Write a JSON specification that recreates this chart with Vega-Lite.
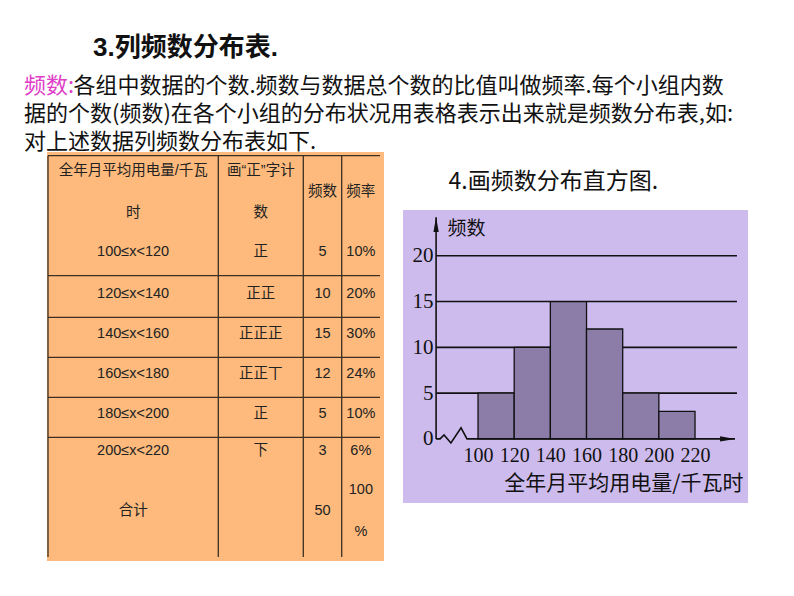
{
  "$schema": "https://vega.github.io/schema/vega-lite/v6.json",
  "background": "white",
  "padding": {"left": 24, "top": 35, "right": 0, "bottom": 0},
  "config": {"view": {"stroke": null}, "font": "Noto Sans CJK SC"},
  "title": {"text": "3.列频数分布表.", "anchor": "start", "dx": 69, "font": "Liberation Sans, Noto Sans CJK SC", "fontSize": 26, "fontWeight": "bold", "color": "#111", "offset": 14},
  "vconcat": [
    {
      "title": {
        "text": "频数:", "color": "#e040c8", "anchor": "start", "dx": -23,
        "font": "Noto Sans CJK SC", "fontSize": 22, "fontWeight": "normal",
        "subtitle": ["\u200b\u3000\u3000\u2005各组中数据的个数.频数与数据总个数的比值叫做频率.每个小组内数", "据的个数(频数)在各个小组的分布状况用表格表示出来就是频数分布表,如:", "对上述数据列频数分布表如下."],
        "subtitleFont": "Noto Sans CJK SC", "subtitleFontSize": 22, "subtitleColor": "#111", "subtitleLineHeight": 28, "subtitlePadding": -22,
        "offset": -2
      },
      "spacing": 19,
      "hconcat": [
        {
          "width": 337,
          "height": 409,
          "view": {"fill": "#fdba7c", "stroke": null},
          "layer": [
            {
              "data": {"values": [{"e": -0.5}, {"e": 1.5}, {"e": 2.5}, {"e": 3.5}, {"e": 4.5}, {"e": 5.5}]},
              "mark": {"type": "rule", "color": "#3d2f22", "strokeWidth": 1.3},
              "encoding": {
                "y": {"field": "e", "type": "quantitative", "axis": null, "scale": {"domain": [-0.5, 0.5, 1.5, 2.5, 3.5, 4.5, 5.5, 6.5, 7.5], "range": [3.7, 83, 123.7, 165.3, 205.3, 245.3, 285.3, 318, 405], "nice": false, "zero": false}},
                "x": {"datum": -0.5, "type": "quantitative", "axis": null, "scale": {"domain": [-0.5, 0.5, 1.5, 2.5, 3.5], "range": [1, 171.3, 256.3, 294.7, 333], "nice": false, "zero": false}},
                "x2": {"datum": 3.5}
              }
            },
            {
              "data": {"values": [{"e": -0.5}, {"e": 0.5}, {"e": 1.5}, {"e": 2.5}]},
              "mark": {"type": "rule", "color": "#3d2f22", "strokeWidth": 1.3},
              "encoding": {
                "x": {"field": "e", "type": "quantitative", "axis": null, "scale": {"domain": [-0.5, 0.5, 1.5, 2.5, 3.5], "range": [1, 171.3, 256.3, 294.7, 333], "nice": false, "zero": false}},
                "y": {"datum": -0.5, "type": "quantitative", "axis": null, "scale": {"domain": [-0.5, 0.5, 1.5, 2.5, 3.5, 4.5, 5.5, 6.5, 7.5], "range": [3.7, 83, 123.7, 165.3, 205.3, 245.3, 285.3, 318, 405], "nice": false, "zero": false}},
                "y2": {"datum": 7.5}
              }
            },
            {
              "data": {"values": [
                {"c": 2, "r": 0, "t": "频数"},
                {"c": 3, "r": 0, "t": "频率"},
                {"c": 0, "r": 1, "t": "100≤x<120"}, {"c": 1, "r": 1, "t": "正"}, {"c": 2, "r": 1, "t": "5"}, {"c": 3, "r": 1, "t": "10%"},
                {"c": 0, "r": 2, "t": "120≤x<140"}, {"c": 1, "r": 2, "t": "正正"}, {"c": 2, "r": 2, "t": "10"}, {"c": 3, "r": 2, "t": "20%"},
                {"c": 0, "r": 3, "t": "140≤x<160"}, {"c": 1, "r": 3, "t": "正正正"}, {"c": 2, "r": 3, "t": "15"}, {"c": 3, "r": 3, "t": "30%"},
                {"c": 0, "r": 4, "t": "160≤x<180"}, {"c": 1, "r": 4, "t": "正正丅"}, {"c": 2, "r": 4, "t": "12"}, {"c": 3, "r": 4, "t": "24%"},
                {"c": 0, "r": 5, "t": "180≤x<200"}, {"c": 1, "r": 5, "t": "正"}, {"c": 2, "r": 5, "t": "5"}, {"c": 3, "r": 5, "t": "10%"},
                {"c": 0, "r": 6, "t": "200≤x<220"}, {"c": 1, "r": 6, "t": "下"}, {"c": 2, "r": 6, "t": "3"}, {"c": 3, "r": 6, "t": "6%"},
                {"c": 0, "r": 7, "t": "合计"}, {"c": 2, "r": 7, "t": "50"}
              ]},
              "mark": {"type": "text", "font": "Liberation Sans, Noto Sans CJK SC", "fontSize": 14.5, "color": "#222", "align": "center", "baseline": "middle", "dy": -3},
              "encoding": {
                "x": {"field": "c", "type": "quantitative", "axis": null, "scale": {"domain": [-0.5, 0.5, 1.5, 2.5, 3.5], "range": [1, 171.3, 256.3, 294.7, 333], "nice": false, "zero": false}},
                "y": {"field": "r", "type": "quantitative", "axis": null, "scale": {"domain": [-0.5, 0.5, 1.5, 2.5, 3.5, 4.5, 5.5, 6.5, 7.5], "range": [3.7, 83, 123.7, 165.3, 205.3, 245.3, 285.3, 318, 405], "nice": false, "zero": false}},
                "text": {"field": "t"}
              }
            },
            {
              "data": {"values": [
                {"c": 0, "r": 0, "t": ["全年月平均用电量/千瓦", "时"]},
                {"c": 1, "r": 0, "t": ["画“正”字计", "数"]},
                {"c": 3, "r": 7, "t": ["100", "%"]}
              ]},
              "mark": {"type": "text", "font": "Liberation Sans, Noto Sans CJK SC", "fontSize": 14.5, "color": "#222", "align": "center", "baseline": "middle", "lineHeight": 42, "dy": -24},
              "encoding": {
                "x": {"field": "c", "type": "quantitative", "axis": null, "scale": {"domain": [-0.5, 0.5, 1.5, 2.5, 3.5], "range": [1, 171.3, 256.3, 294.7, 333], "nice": false, "zero": false}},
                "y": {"field": "r", "type": "quantitative", "axis": null, "scale": {"domain": [-0.5, 0.5, 1.5, 2.5, 3.5, 4.5, 5.5, 6.5, 7.5], "range": [3.7, 83, 123.7, 165.3, 205.3, 245.3, 285.3, 318, 405], "nice": false, "zero": false}},
                "text": {"field": "t"}
              }
            }
          ]
        },
        {
          "width": 345,
          "height": 351,
          "resolve": {"axis": {"x": "independent", "y": "independent"}},
          "layer": [
            {
              "data": {"values": [{"x0": 58.5, "x1": 249.3, "y0": -7, "y1": 25}]},
              "mark": {"type": "rect", "fill": "#cdbbee", "strokeWidth": 0},
              "encoding": {
                "x": {"field": "x0", "type": "quantitative", "scale": {"domain": [58.5, 249.3], "nice": false, "zero": false},
                  "axis": {"orient": "top", "labels": false, "ticks": false, "domain": false, "grid": false, "zindex": 1,
                    "title": "4.画频数分布直方图.", "titleX": 45, "titleY": 18, "titleAlign": "left", "titleAnchor": "start", "titleBaseline": "top", "titleAngle": 0,
                    "titleFont": "Noto Sans CJK SC", "titleFontSize": 23, "titleFontWeight": "normal", "titleColor": "#111"}},
                "x2": {"field": "x1"},
                "y": {"field": "y0", "type": "quantitative", "axis": null, "scale": {"domain": [-7, 31.33], "nice": false, "zero": false}},
                "y2": {"field": "y1"}
              }
            },
            {
              "data": {"values": [{"n": 5, "a": 76.8, "b": 243.2}, {"n": 10, "a": 76.8, "b": 243.2}, {"n": 15, "a": 76.8, "b": 243.2}, {"n": 20, "a": 76.8, "b": 243.2}]},
              "mark": {"type": "rule", "color": "#111", "strokeWidth": 1.6},
              "encoding": {
                "x": {"field": "a", "type": "quantitative", "scale": {"domain": [58.5, 249.3], "nice": false, "zero": false},
                  "axis": {"orient": "bottom", "values": [100, 120, 140, 160, 180, 200, 220], "offset": -64, "domain": false, "ticks": false, "tickSize": 0, "grid": false, "zindex": 1,
                    "labelFont": "Liberation Serif", "labelFontSize": 20, "labelColor": "#111", "labelPadding": 6, "labelFlush": false, "labelOverlap": false,
                    "title": "全年月平均用电量/千瓦时", "titleFont": "Noto Sans CJK SC", "titleFontSize": 21, "titleFontWeight": "normal", "titleColor": "#111",
                    "titleX": 340, "titleY": 33, "titleAlign": "right", "titleBaseline": "top"}},
                "x2": {"field": "b"},
                "y": {"field": "n", "type": "quantitative", "scale": {"domain": [-7, 31.33], "nice": false, "zero": false},
                  "axis": {"orient": "left", "values": [0, 5, 10, 15, 20], "offset": -33, "domain": false, "ticks": false, "tickSize": 0, "grid": false, "zindex": 1,
                    "labelFont": "Liberation Serif", "labelFontSize": 21, "labelColor": "#111", "labelPadding": 3, "labelFlush": false, "labelOverlap": false,
                    "title": "频数", "titleAngle": 0, "titleAlign": "left", "titleBaseline": "top", "titleX": 11, "titleY": 67,
                    "titleFont": "Noto Sans CJK SC", "titleFontSize": 19, "titleFontWeight": "normal", "titleColor": "#111"}}
              }
            },
            {
              "data": {"values": [
                {"lo": 100, "hi": 120, "n": 5},
                {"lo": 120, "hi": 140, "n": 10},
                {"lo": 140, "hi": 160, "n": 15},
                {"lo": 160, "hi": 180, "n": 12},
                {"lo": 180, "hi": 200, "n": 5},
                {"lo": 200, "hi": 220, "n": 3}
              ]},
              "mark": {"type": "rect", "fill": "#8c7da8", "stroke": "#111", "strokeWidth": 1.3},
              "encoding": {
                "x": {"field": "lo", "type": "quantitative", "axis": null, "scale": {"domain": [58.5, 249.3], "nice": false, "zero": false}},
                "x2": {"field": "hi"},
                "y": {"field": "n", "type": "quantitative", "axis": null, "scale": {"domain": [-7, 31.33], "nice": false, "zero": false}},
                "y2": {"datum": 0}
              }
            },
            {
              "data": {"values": [{"v": 76.8, "lo": 0, "hi": 24.2}]},
              "mark": {"type": "rule", "color": "#111", "strokeWidth": 1.6},
              "encoding": {
                "x": {"field": "v", "type": "quantitative", "axis": null, "scale": {"domain": [58.5, 249.3], "nice": false, "zero": false}},
                "y": {"field": "lo", "type": "quantitative", "axis": null, "scale": {"domain": [-7, 31.33], "nice": false, "zero": false}},
                "y2": {"field": "hi"}
              }
            },
            {
              "data": {"values": [
                {"i": 0, "v": 76.8, "n": 0},
                {"i": 1, "v": 79.0, "n": 0},
                {"i": 2, "v": 81.2, "n": 0.44},
                {"i": 3, "v": 85.0, "n": -0.44},
                {"i": 4, "v": 90.6, "n": 1.2},
                {"i": 5, "v": 93.9, "n": 0},
                {"i": 6, "v": 242.1, "n": 0}
              ]},
              "mark": {"type": "line", "color": "#111", "strokeWidth": 1.6},
              "encoding": {
                "x": {"field": "v", "type": "quantitative", "axis": null, "scale": {"domain": [58.5, 249.3], "nice": false, "zero": false}},
                "y": {"field": "n", "type": "quantitative", "axis": null, "scale": {"domain": [-7, 31.33], "nice": false, "zero": false}},
                "order": {"field": "i", "type": "quantitative"}
              }
            },
            {
              "data": {"values": [
                {"v": 76.8, "n": 23.4, "s": "up"},
                {"v": 238.0, "n": 0, "s": "right"}
              ]},
              "mark": {"type": "point", "filled": true, "color": "#111", "size": 225, "opacity": 1, "strokeWidth": 0},
              "encoding": {
                "x": {"field": "v", "type": "quantitative", "axis": null, "scale": {"domain": [58.5, 249.3], "nice": false, "zero": false}},
                "y": {"field": "n", "type": "quantitative", "axis": null, "scale": {"domain": [-7, 31.33], "nice": false, "zero": false}},
                "shape": {"field": "s", "type": "nominal", "legend": null, "scale": {"domain": ["up", "right"], "range": ["M0,-1L0.35,1L-0.35,1Z", "M1,0L-1,0.35L-1,-0.35Z"]}}
              }
            }
          ]
        }
      ]
    }
  ]
}
